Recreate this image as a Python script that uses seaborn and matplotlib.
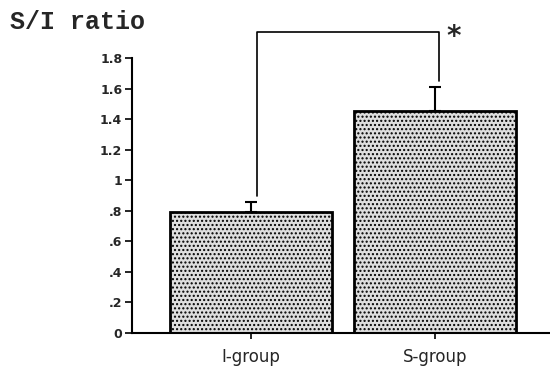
import matplotlib
matplotlib.use("Agg")
import matplotlib.pyplot as plt
import seaborn as sns
import pandas as pd
from matplotlib.ticker import FixedLocator

groups = ["I-group", "S-group"]
ratios = [0.79, 1.45]
errors = [0.07, 0.16]
yticks = [0, 0.2, 0.4, 0.6, 0.8, 1.0, 1.2, 1.4, 1.6, 1.8]
ytick_labels = ["0", ".2", ".4", ".6", ".8", "1", "1.2", "1.4", "1.6", "1.8"]

sns.set_theme(style="ticks")
plt.rcParams['font.family'] = ['DejaVu Sans']
plt.rcParams['hatch.color'] = '#a8a8a8'

df = pd.DataFrame({"group": groups, "ratio": ratios})

fig = plt.figure(figsize=(5.5, 3.69), dpi=100)
ax = fig.add_axes([132/550, 36/369, 418/550, 275/369])

sns.barplot(data=df, x="group", y="ratio", ax=ax, width=0.88,
            color="#d8d8d8", edgecolor="black", linewidth=2, errorbar=None,
            hatch="....")
for p in ax.patches:
    p.set_facecolor("#dedede")

ax.errorbar(range(len(groups)), ratios, yerr=[[0]*len(errors), errors],
            fmt="none", ecolor="black", elinewidth=1.5, capsize=4, capthick=1.5)

ax.set_xlim(-0.647, 1.625)
ax.set_ylim(0, 1.8)
ax.yaxis.set_major_locator(FixedLocator(yticks))
ax.set_yticklabels(ytick_labels)
ax.set_xlabel("")
ax.set_ylabel("")
sns.despine(ax=ax, right=True, top=True)
for s in ["left", "bottom"]:
    ax.spines[s].set_linewidth(1.5)
    ax.spines[s].set_color("black")
ax.tick_params(axis="y", length=5, width=1.2, labelsize=9, color="black", pad=2)
ax.tick_params(axis="x", length=4, width=1.2, labelsize=12, color="black", pad=7)
for lbl in ax.get_yticklabels():
    lbl.set_fontweight("semibold")

# significance bracket
x0, x1 = 0, 1
ytop = 1.97
ax.plot([x0 + 0.03, x0 + 0.03, x1 + 0.02, x1 + 0.02],
        [0.90, ytop, ytop, 1.65], color="black", lw=1.2, clip_on=False)
ax.text(x1 + 0.1, ytop - 0.03, "*", fontsize=20, fontweight="bold",
        ha="center", va="center", clip_on=False)

fig.text(10/550, 1 - 22/369, "S/I ratio", family="Liberation Mono",
         fontsize=18, fontweight="bold", va="center", ha="left")

fig.savefig("out.png", dpi=100)
